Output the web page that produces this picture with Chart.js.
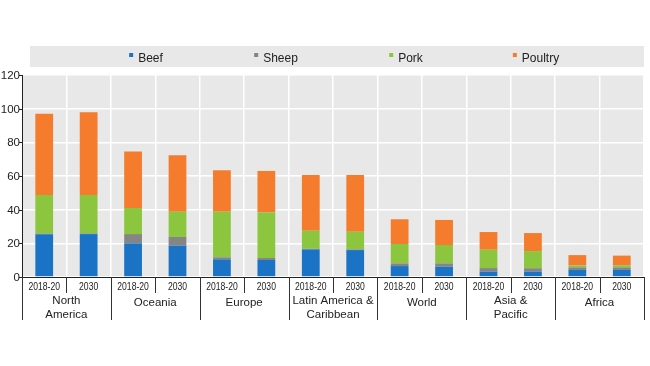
<!DOCTYPE html>
<html>
<head>
<meta charset="utf-8">
<script src="https://cdn.jsdelivr.net/npm/chart.js@4.4.0/dist/chart.umd.min.js"></script>
<style>
  html, body { margin: 0; padding: 0; background: #fff; }
  #wrap { width: 650px; height: 366px; }
</style>
</head>
<body>
<div id="wrap"><canvas id="meatChart"></canvas></div>
<script>
const regions = ['North America', 'Oceania', 'Europe', 'Latin America & Caribbean', 'World', 'Asia & Pacific', 'Africa'];
const regionLines = [['North', 'America'], ['Oceania'], ['Europe'], ['Latin America &', 'Caribbean'], ['World'], ['Asia &', 'Pacific'], ['Africa']];
const periods = ['2018-20', '2030'];
const yTicks = [0, 20, 40, 60, 80, 100, 120];

// kg per capita, order: region x period
const beef    = [25.4, 25.5, 20.0, 18.6, 10.5, 10.1, 16.4, 16.0, 6.5, 6.1, 3.2, 3.2, 4.2, 4.2];
const sheep   = [0.4, 0.4, 5.5, 5.2, 1.2, 1.2, 0.4, 0.4, 1.6, 2.0, 2.1, 2.0, 1.5, 1.5];
const pork    = [22.9, 22.8, 15.5, 15.0, 27.1, 27.1, 10.7, 10.5, 11.5, 10.9, 10.9, 10.2, 1.2, 1.3];
const poultry = [48.3, 49.1, 33.5, 33.5, 24.6, 24.6, 33.1, 33.7, 14.7, 14.9, 10.5, 10.7, 6.1, 5.7];

const labels = [];
regions.forEach(r => periods.forEach(p => labels.push(p)));

const FONT = '"Liberation Sans", Arial, sans-serif';
const TXT = '#222';

// text squeezed horizontally, like the original narrow font
function narrowText(ctx, text, x, y, sx, align) {
    ctx.save();
    ctx.translate(x, y);
    ctx.scale(sx, 1);
    ctx.textAlign = align;
    ctx.fillText(text, 0, 0);
    ctx.restore();
}

const bgPlugin = {
    id: 'bg',
    beforeDraw(chart) {
        const {ctx, chartArea: a} = chart;
        ctx.save();
        ctx.fillStyle = '#e8e8e8';
        ctx.fillRect(a.left, a.top, a.right - a.left, a.bottom - a.top);
        // legend band
        ctx.fillRect(30, 46, a.right - 30, 21);
        ctx.restore();
    },
    afterDraw(chart) {
        const {ctx, chartArea: a} = chart;
        const x = chart.scales.x;
        const y = chart.scales.y;
        ctx.save();
        ctx.textBaseline = 'middle';
        // legend
        ctx.font = '12px ' + FONT;
        chart.data.datasets.forEach((ds, i) => {
            const w = ctx.measureText(ds.label).width + 9;
            const cx = 146 + 130 * i;
            const lx = cx - w / 2;
            ctx.fillStyle = ds.backgroundColor;
            ctx.fillRect(lx, 53, 4, 4);
            ctx.fillStyle = TXT;
            ctx.textAlign = 'left';
            ctx.fillText(ds.label, lx + 9, 59);
        });
        // y axis ticks and labels
        ctx.strokeStyle = '#222';
        ctx.lineWidth = 1;
        ctx.font = '11.5px ' + FONT;
        ctx.fillStyle = TXT;
        ctx.textAlign = 'right';
        yTicks.forEach(v => {
            const py = Math.round(y.getPixelForValue(v)) + 0.5;
            ctx.beginPath();
            ctx.moveTo(a.left - 3, py);
            ctx.lineTo(a.left, py);
            ctx.stroke();
            ctx.fillText(String(v), a.left - 2, py);
        });
        // category axis ticks and labels
        ctx.strokeStyle = '#333';
        const n = labels.length;
        for (let i = 0; i <= n; i++) {
            let px;
            if (i === 0) px = a.left;
            else if (i === n) px = a.right;
            else px = (x.getPixelForValue(i - 1) + x.getPixelForValue(i)) / 2;
            const len = i % 2 === 0 ? 43 : 16;
            ctx.beginPath();
            ctx.moveTo(Math.round(px) + 0.5, a.bottom);
            ctx.lineTo(Math.round(px) + 0.5, a.bottom + len);
            ctx.stroke();
        }
        ctx.fillStyle = TXT;
        ctx.font = '10.5px ' + FONT;
        labels.forEach((l, i) => {
            narrowText(ctx, l, x.getPixelForValue(i), a.bottom + 10, 0.82, 'center');
        });
        ctx.font = '11.5px ' + FONT;
        ctx.textAlign = 'center';
        regionLines.forEach((lines, g) => {
            const cx = (x.getPixelForValue(g * 2) + x.getPixelForValue(g * 2 + 1)) / 2;
            if (lines.length === 1) {
                ctx.fillText(lines[0], cx, a.bottom + 26);
            } else {
                ctx.fillText(lines[0], cx, a.bottom + 24);
                ctx.fillText(lines[1], cx, a.bottom + 38);
            }
        });
        ctx.restore();
    }
};

const mk = (label, data, color) => ({
    label, data, backgroundColor: color,
    barPercentage: 0.4, categoryPercentage: 1.0, borderWidth: 0
});

new Chart(document.getElementById('meatChart'), {
    type: 'bar',
    data: {
        labels,
        datasets: [
            mk('Beef', beef, '#1a73c4'),
            mk('Sheep', sheep, '#858585'),
            mk('Pork', pork, '#8cc63f'),
            mk('Poultry', poultry, '#f47c2c')
        ]
    },
    options: {
        responsive: true,
        maintainAspectRatio: false,
        animation: false,
        layout: { padding: { top: 75, right: 6, left: 0, bottom: 0 } },
        plugins: { legend: { display: false }, tooltip: { enabled: false } },
        scales: {
            x: {
                stacked: true,
                afterFit: s => { s.height = 89; },
                ticks: { display: false },
                grid: { color: '#fff', lineWidth: 1.5, drawTicks: false, offset: true },
                border: { color: '#222', width: 1 }
            },
            y: {
                stacked: true,
                min: 0, max: 120,
                afterFit: s => { s.width = 22; },
                ticks: { display: false, stepSize: 20 },
                grid: { color: '#fff', lineWidth: 1.5, drawTicks: false },
                border: { color: '#222', width: 1 }
            }
        }
    },
    plugins: [bgPlugin]
});
</script>
</body>
</html>
